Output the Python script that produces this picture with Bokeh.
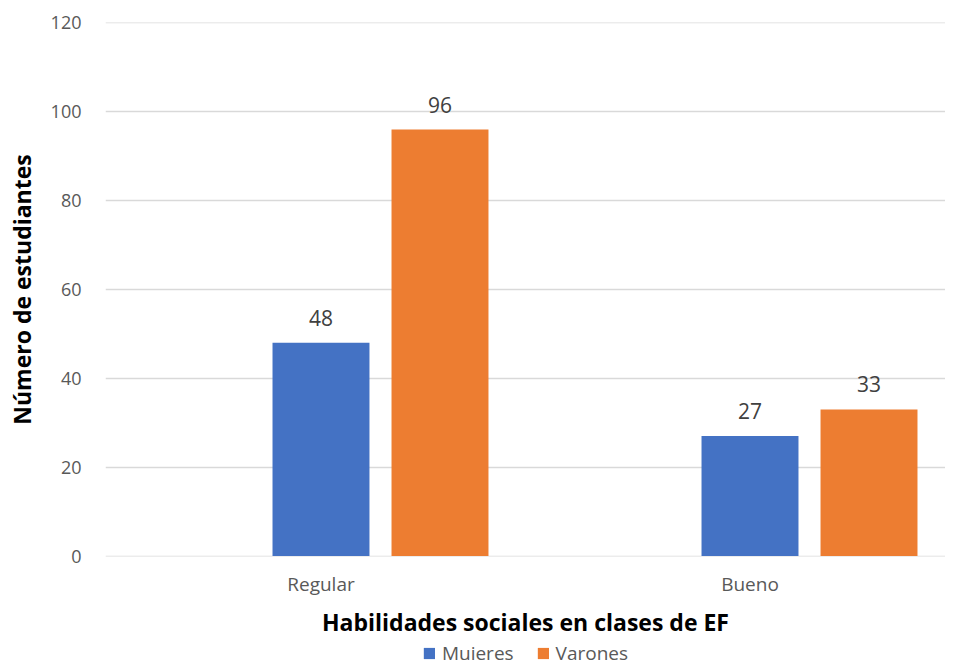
from bokeh.plotting import figure
from bokeh.layouts import column
from bokeh.models import ColumnDataSource, Range1d, FixedTicker, Legend, LegendItem, LabelSet
from bokeh.core.properties import value
from bokeh.transform import dodge
from bokeh.embed import file_html
from bokeh.resources import INLINE

categories = ["Regular", "Bueno"]
mujeres = [48, 27]
varones = [96, 33]
y_ticks = [0, 20, 40, 60, 80, 100, 120]
series_names = ["Mujeres", "Varones"]
colors = ["#4472C4", "#ED7D31"]

FONT = "Open Sans"
BAR_W = 0.226
OFF = 0.2774

src = ColumnDataSource(dict(
    x=list(range(len(categories))),
    muj=mujeres,
    var=varones,
    muj_lbl=[str(v) for v in mujeres],
    var_lbl=[str(v) for v in varones],
))

p = figure(frame_width=840, frame_height=534,
           x_range=Range1d(-0.5023, 1.4557), y_range=Range1d(-0.1, 120.1),
           output_backend="svg", toolbar_location=None,
           min_border_left=105, min_border_right=0, min_border_top=22, min_border_bottom=78)
p.outline_line_color = None
p.background_fill_color = "white"

r1 = p.vbar(x=dodge('x', 0.0, range=p.x_range), top='muj', width=BAR_W, source=src,
            fill_color=colors[0], line_color=None)
r2 = p.vbar(x=dodge('x', OFF, range=p.x_range), top='var', width=BAR_W, source=src,
            fill_color=colors[1], line_color=None)

for xs, ys, lbl in [(dodge('x', 0.0, range=p.x_range), 'muj', 'muj_lbl'),
                    (dodge('x', OFF, range=p.x_range), 'var', 'var_lbl')]:
    ls = LabelSet(x=xs, y=ys, text=lbl, source=src, y_offset=17,
                  text_align="center", text_baseline="alphabetic",
                  text_font=value(FONT), text_font_size=value("21px"),
                  text_color="#404040")
    p.add_layout(ls)

# axes
p.xaxis.ticker = FixedTicker(ticks=list(range(len(categories))))
p.xaxis.major_label_overrides = {i: c for i, c in enumerate(categories)}
p.xaxis.axis_line_color = None
p.xaxis.major_tick_line_color = None
p.xaxis.minor_tick_line_color = None
p.xaxis.major_tick_out = 0
p.xaxis.major_tick_in = 0
p.xaxis.minor_tick_out = 0
p.xaxis.major_label_standoff = 14
p.xaxis.major_label_text_font = FONT
p.xaxis.major_label_text_font_size = "19px"
p.xaxis.major_label_text_color = "#595959"
p.xaxis.axis_label = "Habilidades sociales en clases de EF"
p.xaxis.axis_label_text_font = FONT
p.xaxis.axis_label_text_font_size = "23px"
p.xaxis.axis_label_text_font_style = "bold"
p.xaxis.axis_label_text_color = "black"
p.xaxis.axis_label_standoff = 6

p.yaxis.ticker = FixedTicker(ticks=y_ticks)
p.yaxis.axis_line_color = None
p.yaxis.major_tick_line_color = None
p.yaxis.minor_tick_line_color = None
p.yaxis.major_tick_out = 0
p.yaxis.major_tick_in = 0
p.yaxis.minor_tick_out = 0
p.yaxis.major_label_standoff = 24
p.yaxis.major_label_text_font = FONT
p.yaxis.major_label_text_font_size = "18px"
p.yaxis.major_label_text_color = "#595959"
p.yaxis.axis_label = "Número de estudiantes"
p.yaxis.axis_label_text_font = FONT
p.yaxis.axis_label_text_font_size = "23px"
p.yaxis.axis_label_text_font_style = "bold"
p.yaxis.axis_label_text_color = "black"
p.yaxis.axis_label_standoff = 10

p.xgrid.grid_line_color = None
p.ygrid.grid_line_color = "#d9d9d9"
p.ygrid.grid_line_width = 1.5

# legend strip below the chart (renderers hidden, only used for the legend swatches)
leg = figure(frame_width=840, frame_height=26, x_range=Range1d(0, 1), y_range=Range1d(0, 1),
             output_backend="svg", toolbar_location=None,
             min_border_left=105, min_border_right=0, min_border_top=0, min_border_bottom=0)
leg.axis.visible = False
leg.grid.visible = False
leg.outline_line_color = None
lr1 = leg.vbar(x='x', top='muj', width=0.1, source=src, fill_color=colors[0],
               line_color=None, visible=False)
lr2 = leg.vbar(x='x', top='var', width=0.1, source=src, fill_color=colors[1],
               line_color=None, visible=False)
legend = Legend(items=[LegendItem(label=series_names[0], renderers=[lr1], index=0),
                       LegendItem(label=series_names[1], renderers=[lr2], index=0)],
                orientation="horizontal", location="center",
                glyph_width=14, glyph_height=14, label_text_font=FONT,
                label_text_font_size="19px", label_text_color="#595959",
                padding=0, margin=0, spacing=22, label_standoff=6,
                label_height=18, border_line_color=None, background_fill_alpha=0,
                inactive_fill_alpha=0)
leg.add_layout(legend, "center")

layout = column(p, leg, spacing=0)
open("out.html", "w").write(file_html(layout, INLINE))
